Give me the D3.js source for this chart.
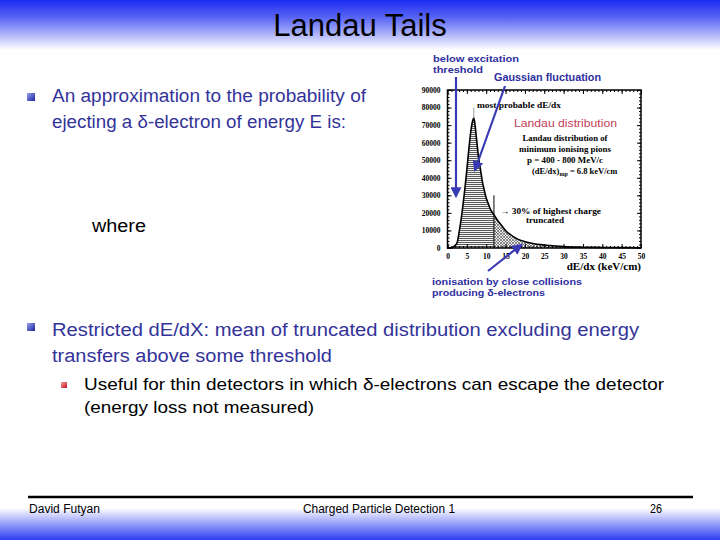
<!DOCTYPE html>
<html><head><meta charset="utf-8">
<script src="https://cdn.jsdelivr.net/npm/d3@7"></script>
<style>body{margin:0;padding:0;background:#fff}svg{display:block}</style>
</head><body>
<script>
// ---- data ----
const dEdx   = [0, 1, 1.5, 2, 2.5, 3, 3.5, 4, 4.5, 5, 5.5, 6, 6.5, 6.8, 7, 7.5, 8, 8.5, 9, 9.5, 10, 10.5, 11, 11.5, 12, 13, 14, 15, 16, 17, 18, 20, 22, 25, 28, 30, 35, 40, 45, 50];
const counts = [0, 200, 600, 1500, 3200, 9000, 16000, 24500, 34000, 44500, 56000, 66000, 72500, 74000, 72000, 62000, 52000, 45000, 38000, 33000, 28500, 25500, 22500, 20500, 19000, 15500, 12800, 10000, 8000, 6500, 5200, 3600, 2600, 1700, 1100, 800, 450, 300, 200, 150];
const xTicks = [0, 5, 10, 15, 20, 25, 30, 35, 40, 45, 50];
const yTicks = [0, 10000, 20000, 30000, 40000, 50000, 60000, 70000, 80000, 90000];
const truncCut = 12;       // keV/cm, 30% highest charge truncated
const truncLineTop = 30000;
const mpValue = 6.8;
const mpLineTop = 80000;

const W = 720, H = 540;
const svg = d3.select("body").append("svg").attr("width", W).attr("height", H);
const defs = svg.append("defs");

// slide background gradients
const gTop = defs.append("linearGradient").attr("id","gTop").attr("x1",0).attr("y1",0).attr("x2",0).attr("y2",1);
gTop.append("stop").attr("offset","0%").attr("stop-color","#1c2cf2");
gTop.append("stop").attr("offset","35%").attr("stop-color","#5864f4");
gTop.append("stop").attr("offset","100%").attr("stop-color","#ffffff");
const gBot = defs.append("linearGradient").attr("id","gBot").attr("x1",0).attr("y1",0).attr("x2",0).attr("y2",1);
gBot.append("stop").attr("offset","0%").attr("stop-color","#ffffff");
gBot.append("stop").attr("offset","100%").attr("stop-color","#2c3cf2");
svg.append("rect").attr("x",0).attr("y",0).attr("width",W).attr("height",50).attr("fill","url(#gTop)");
svg.append("rect").attr("x",0).attr("y",508).attr("width",W).attr("height",32).attr("fill","url(#gBot)");

// bullet gradients
const gB = defs.append("linearGradient").attr("id","gB").attr("x1",0).attr("y1",0).attr("x2",1).attr("y2",1);
gB.append("stop").attr("offset","0%").attr("stop-color","#9aa2f0");
gB.append("stop").attr("offset","100%").attr("stop-color","#1a22a0");
const gR = defs.append("linearGradient").attr("id","gR").attr("x1",0).attr("y1",0).attr("x2",1).attr("y2",1);
gR.append("stop").attr("offset","0%").attr("stop-color","#f0a0a0");
gR.append("stop").attr("offset","100%").attr("stop-color","#cc1020");

// hatch patterns
const p1 = defs.append("pattern").attr("id","hatchH").attr("patternUnits","userSpaceOnUse").attr("width",3).attr("height",2);
p1.append("rect").attr("width",3).attr("height",2).attr("fill","#f4f4f4");
p1.append("line").attr("x1",0).attr("y1",0.5).attr("x2",3).attr("y2",0.5).attr("stroke","#333").attr("stroke-width",0.8);
const p2 = defs.append("pattern").attr("id","hatchX").attr("patternUnits","userSpaceOnUse").attr("width",3).attr("height",3);
p2.append("rect").attr("width",3).attr("height",3).attr("fill","#eee");
p2.append("path").attr("d","M0,3L3,0M0,0L3,3").attr("stroke","#444").attr("stroke-width",0.6);

// title
svg.append("text").attr("x",360).attr("y",36).attr("text-anchor","middle")
  .attr("font-family","Liberation Sans, Arial, sans-serif").attr("font-size",31).attr("fill","#000").text("Landau Tails");

const sans = "Liberation Sans, Arial, sans-serif";
const blue = "#333399";
function line(x,y,txt,size,color,len){
  const t = svg.append("text").attr("x",x).attr("y",y).attr("font-family",sans).attr("font-size",size).attr("fill",color).text(txt);
  if(len) t.attr("textLength",len).attr("lengthAdjust","spacingAndGlyphs");
  return t;
}
svg.append("rect").attr("x",27).attr("y",93).attr("width",8).attr("height",8).attr("fill","url(#gB)");
line(52,102,"An approximation to the probability of",18,blue,314);
line(52,128,"ejecting a δ-electron of energy E is:",18,blue,294);
line(92,232,"where",18,"#000",54);
svg.append("rect").attr("x",27).attr("y",323).attr("width",8).attr("height",8).attr("fill","url(#gB)");
line(52,336,"Restricted dE/dX:  mean of truncated distribution excluding energy",18,blue,587);
line(52,362,"transfers above some threshold",18,blue,280);
svg.append("rect").attr("x",61).attr("y",382).attr("width",6).attr("height",6).attr("fill","url(#gR)");
line(84,390,"Useful for thin detectors in which δ-electrons can escape the detector",17,"#000",580);
line(84,413,"(energy loss not measured)",17,"#000",230);

// footer
svg.append("line").attr("x1",28).attr("x2",693).attr("y1",497).attr("y2",497).attr("stroke","#000").attr("stroke-width",2.5);
line(29,513,"David Futyan",12,"#000",71);
line(303,513,"Charged Particle Detection 1",12,"#000",152);
line(650,513,"26",12,"#000",12);

// ---- chart ----
const x = d3.scaleLinear().domain([0,50]).range([447.5,641]);
const y = d3.scaleLinear().domain([0,90000]).range([248,90]);
const chart = svg.append("g");
const pts = dEdx.map((d,i)=>({x:d,y:counts[i]}));
const area = d3.area().x(d=>x(d.x)).y0(y(0)).y1(d=>y(d.y)).curve(d3.curveMonotoneX);
const lineGen = d3.line().x(d=>x(d.x)).y(d=>y(d.y)).curve(d3.curveMonotoneX);
chart.append("path").datum(pts.filter(d=>d.x<=truncCut)).attr("d",area).attr("fill","url(#hatchH)");
chart.append("path").datum(pts.filter(d=>d.x>=truncCut)).attr("d",area).attr("fill","url(#hatchX)");
chart.append("path").datum(pts).attr("d",lineGen).attr("fill","none").attr("stroke","#000").attr("stroke-width",1.6);
chart.append("line").attr("x1",x(truncCut)).attr("x2",x(truncCut)).attr("y1",y(0)).attr("y2",y(truncLineTop)).attr("stroke","#000").attr("stroke-width",1);
chart.append("line").attr("x1",x(mpValue)).attr("x2",x(mpValue)).attr("y1",y(74000)).attr("y2",y(mpLineTop)).attr("stroke","#999").attr("stroke-width",1);

// frame
chart.append("rect").attr("x",x(0)).attr("y",y(90000)).attr("width",x(50)-x(0)).attr("height",y(0)-y(90000))
  .attr("fill","none").attr("stroke","#000").attr("stroke-width",1.5);

// axes with inward ticks
const serif = "Liberation Serif, Times New Roman, serif";
const xAxisB = d3.axisBottom(x).tickValues(xTicks).tickSize(-4).tickPadding(6).tickFormat(d3.format("d"));
chart.append("g").attr("transform",`translate(0,${y(0)})`).call(xAxisB);
chart.append("g").attr("transform",`translate(0,${y(90000)})`).call(d3.axisTop(x).tickValues(d3.range(0,51,1)).tickSize(-2).tickFormat(""));
chart.append("g").attr("transform",`translate(0,${y(0)})`).call(d3.axisBottom(x).tickValues(d3.range(0,51,1)).tickSize(-2).tickFormat(""));
chart.append("g").attr("transform",`translate(0,${y(90000)})`).call(d3.axisTop(x).tickValues(xTicks).tickSize(-4).tickFormat(""));
const yAxisL = d3.axisLeft(y).tickValues(yTicks).tickSize(-4).tickPadding(7).tickFormat(d3.format("d"));
chart.append("g").attr("transform",`translate(${x(0)},0)`).call(yAxisL);
chart.append("g").attr("transform",`translate(${x(0)},0)`).call(d3.axisLeft(y).tickValues(d3.range(0,90001,2000)).tickSize(-2).tickFormat(""));
chart.append("g").attr("transform",`translate(${x(50)},0)`).call(d3.axisRight(y).tickValues(d3.range(0,90001,2000)).tickSize(-2).tickFormat(""));
chart.append("g").attr("transform",`translate(${x(50)},0)`).call(d3.axisRight(y).tickValues(yTicks).tickSize(-4).tickFormat(""));
chart.selectAll(".domain").remove();
chart.selectAll(".tick line").attr("stroke","#000");
chart.selectAll(".tick text").attr("font-family",serif).attr("font-weight","bold").attr("font-size",7.5).attr("fill","#000");

// axis title
chart.append("text").attr("x",x(50)).attr("y",270).attr("text-anchor","end").attr("font-family",serif)
  .attr("font-weight","bold").attr("font-size",11).text("dE/dx (keV/cm)");

// annotations
const annBlue = "#2e2ea0";
function ann(xp,yp,txt,opt={}){
  const t = chart.append("text").attr("x",xp).attr("y",yp).attr("font-family",opt.font||sans)
   .attr("font-weight",opt.weight||"bold").attr("font-size",opt.size||10).attr("fill",opt.color||annBlue)
   .attr("text-anchor",opt.anchor||"start").text(txt);
  if(opt.len) t.attr("textLength",opt.len).attr("lengthAdjust","spacingAndGlyphs");
  return t;
}
ann(433,62,"below excitation",{size:9.5,len:86});
ann(433,73,"threshold",{size:9.5,len:50});
ann(494,81,"Gaussian fluctuation",{size:10,len:107});
ann(477,108,"most probable dE/dx",{font:serif,size:9,color:"#000",len:84});
ann(514,127,"Landau distribution",{weight:"normal",size:11.5,color:"#c0405a",len:103});
ann(565,141,"Landau distribution of",{font:serif,size:8.5,color:"#000",anchor:"middle",len:85});
ann(565,152,"minimum ionising pions",{font:serif,size:8.5,color:"#000",anchor:"middle",len:92});
ann(565,163,"p = 400 - 800 MeV/c",{font:serif,size:8.5,color:"#000",anchor:"middle",len:76});
const mpT = chart.append("text").attr("x",532).attr("y",174).attr("font-family",serif).attr("font-weight","bold").attr("font-size",8.5).attr("fill","#000");
mpT.append("tspan").text("(dE/dx)");
mpT.append("tspan").attr("font-size",6).attr("dy",2).text("mp");
mpT.append("tspan").attr("dy",-2).text(" = 6.8 keV/cm");
ann(500,214,"→ 30% of highest charge",{font:serif,size:8.5,color:"#000",len:101});
ann(526,223,"truncated",{font:serif,size:8.5,color:"#000",len:38});
ann(432,285,"ionisation by close collisions",{size:9.5,len:150});
ann(432,296,"producing δ-electrons",{size:9.5,len:113});

// arrows
const mk = defs.append("marker").attr("id","ah").attr("viewBox","0 0 10 10").attr("refX",8).attr("refY",5)
  .attr("markerWidth",5).attr("markerHeight",5).attr("orient","auto");
mk.append("path").attr("d","M0,0L10,5L0,10z").attr("fill","#3a3ab4");
function arrow(x1,y1,x2,y2){
  chart.append("line").attr("x1",x1).attr("y1",y1).attr("x2",x2).attr("y2",y2)
   .attr("stroke","#3a3ab4").attr("stroke-width",2.2).attr("marker-end","url(#ah)");
}
arrow(456,77,456,196);
arrow(505,86,475,170);
arrow(488,271,521,245);
</script>
</body></html>
